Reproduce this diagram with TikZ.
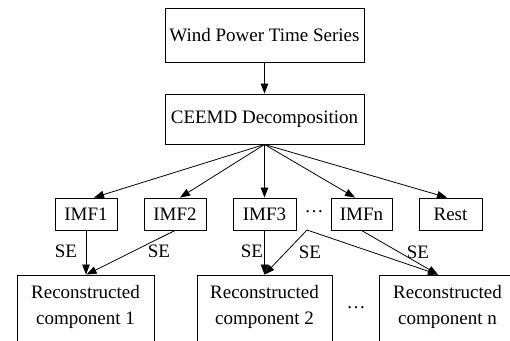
\documentclass[tikz,border=0pt]{standalone}
\usepackage{fontspec}
\setmainfont{Liberation Serif}
\usetikzlibrary{arrows.meta}
\begin{document}
\begin{tikzpicture}[x=1pt,y=-1pt,
  every node/.style={font=\fontsize{19}{26}\selectfont, inner sep=0pt},
  box/.style={draw, line width=0.9pt},
  conn/.style={line width=0.8pt, -{Triangle[length=10pt,width=7.5pt]}},
  lbl/.style={}]
\useasboundingbox (0,0) rectangle (510,340);
\clip (0,0) rectangle (510,340);
% top boxes
\node[box, minimum width=199pt, minimum height=54pt] (ws) at (264.5,35) {Wind Power Time Series};
\node[box, minimum width=199pt, minimum height=50pt] (ceemd) at (264.5,119) {CEEMD Decomposition};
% IMF row
\node[box, minimum width=62pt, minimum height=32pt] (imf1) at (86,214) {IMF1};
\node[box, minimum width=62pt, minimum height=32pt] (imf2) at (175,214) {IMF2};
\node[box, minimum width=63pt, minimum height=32pt] (imf3) at (264.5,214) {IMF3};
\node (dots) at (314,212) {…};
\coordinate (dotsb) at (307,230);
\node[box, minimum width=61pt, minimum height=32pt] (imfn) at (361.5,214) {IMFn};
\node[box, minimum width=63pt, minimum height=32pt] (rest) at (450.5,214) {Rest};
% bottom boxes (cut off at the bottom)
\node[box, minimum width=137pt, minimum height=72pt] (rc1) at (85.5,311) {};
\node[align=center] (rc1t) at (85.5,307) {Reconstructed\\component 1};
\node[box, minimum width=135pt, minimum height=72pt] (rc2) at (264.5,311) {};
\node[align=center] (rc2t) at (264.5,307) {Reconstructed\\component 2};
\node[box, minimum width=137pt, minimum height=72pt] (rcn) at (447.5,311) {};
\node[align=center] (rcnt) at (447.5,307) {Reconstructed\\component n};
\node (bdots) at (356,308) {…};
% connectors
\draw[conn] (ws) -- (ceemd);
\draw[conn] (ceemd.south) -- ([xshift=8pt]imf1.north);
\draw[conn] (ceemd.south) -- ([xshift=5pt]imf2.north);
\draw[conn] (ceemd.south) -- (imf3.north);
\draw[conn] (ceemd.south) -- ([xshift=-6.5pt]imfn.north);
\draw[conn] (ceemd.south) -- ([xshift=-3.5pt]rest.north);
\draw[conn] (imf1.south) -- (imf1.south |- rc1.north);
\draw[conn] (imf2.south) -- ([xshift=1pt]rc1.north);
\draw[conn] (imf3.south) -- (rc2.north);
\draw[conn] (dotsb) -- (rc2.north);
\draw[conn] (dotsb) -- ([xshift=-9.5pt]rcn.north);
\draw[conn] (imfn.south) -- ([xshift=-9.5pt]rcn.north);
% labels
\node[lbl] (se1) at (66,251) {SE};
\node[lbl] (se2) at (159,251) {SE};
\node[lbl] (se3) at (252,251) {SE};
\node[lbl] (se4) at (310,252) {SE};
\node[lbl] (se5) at (418,252) {SE};
\end{tikzpicture}
\end{document}
